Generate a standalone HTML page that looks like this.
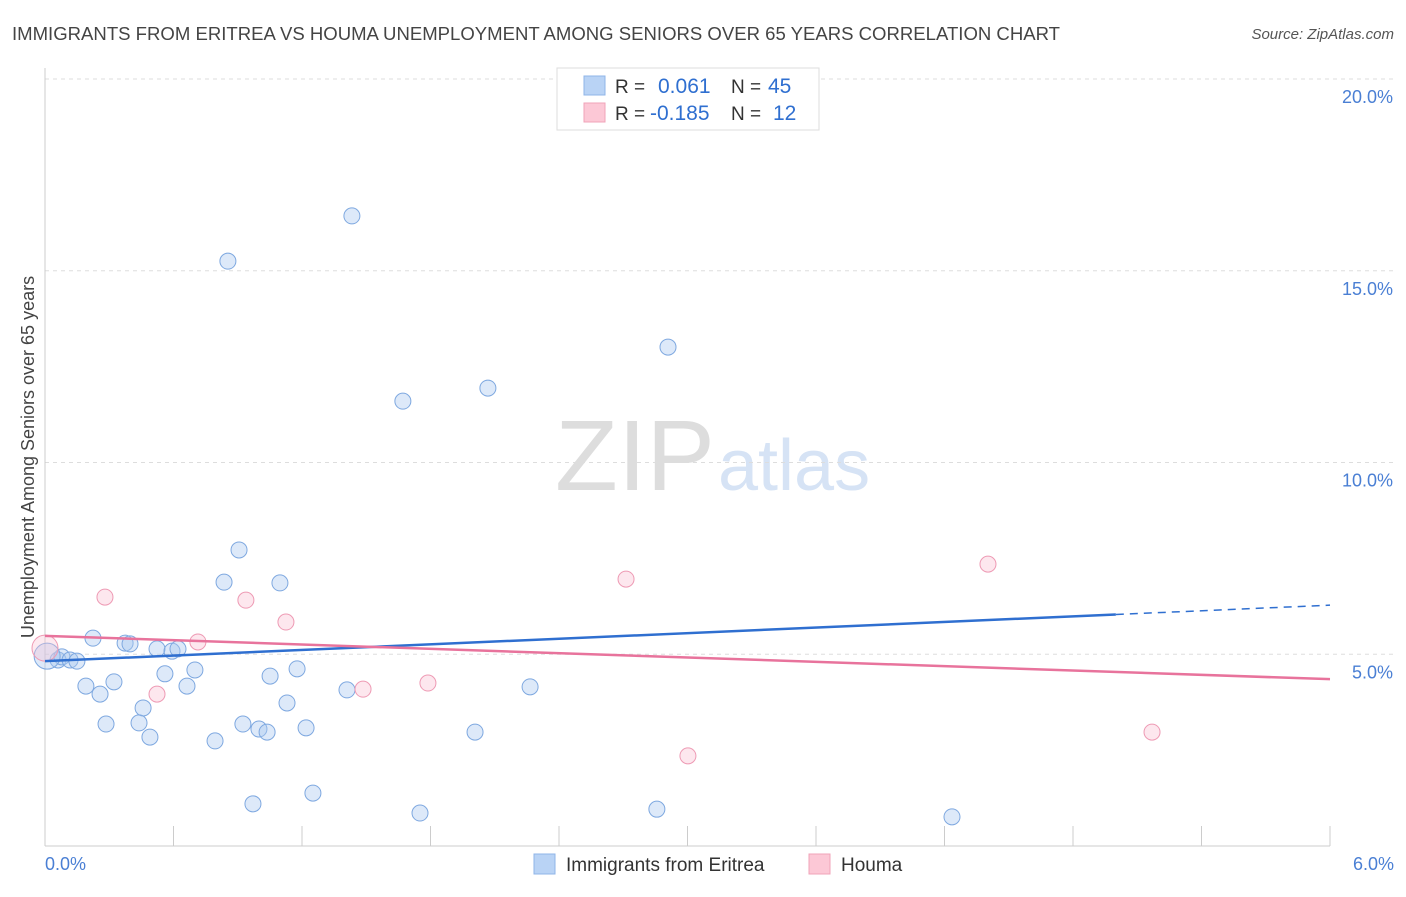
<!DOCTYPE html>
<html><head><meta charset="utf-8"><style>
body{margin:0;background:#fff;font-family:"Liberation Sans",sans-serif}
svg text{font-family:"Liberation Sans",sans-serif}
</style></head><body>
<svg id="c" width="1406" height="892">
<text x="12" y="40" font-size="18" fill="#444" textLength="1048" lengthAdjust="spacingAndGlyphs">IMMIGRANTS FROM ERITREA VS HOUMA UNEMPLOYMENT AMONG SENIORS OVER 65 YEARS CORRELATION CHART</text>
<text x="1394" y="39" font-size="15" fill="#555" text-anchor="end" font-style="italic">Source: ZipAtlas.com</text>
<text x="555" y="490" font-size="100" fill="#ddd" textLength="160" lengthAdjust="spacingAndGlyphs" font-family="Liberation Serif">ZIP</text>
<text x="718" y="490" font-size="72" fill="#d6e3f5">atlas</text>
<g id="grid"></g><g id="pts"></g><g id="lines"></g>
<text transform="translate(34,457) rotate(-90)" font-size="18" fill="#444" text-anchor="middle">Unemployment Among Seniors over 65 years</text>
<text x="45" y="870" font-size="18" fill="#4a7fd4">0.0%</text>
<text x="1394" y="870" font-size="18" fill="#4a7fd4" text-anchor="end">6.0%</text>
<g>
<rect x="557" y="68" width="262" height="62" fill="#fff" stroke="#ddd"/>
<rect x="584" y="76" width="21" height="19" fill="#b9d3f5" stroke="#8fb5e8"/>
<rect x="584" y="103" width="21" height="19" fill="#fcc8d6" stroke="#f0a3b8"/>
<text x="615" y="93" font-size="19" fill="#333">R =</text><text x="658" y="93" font-size="21" fill="#2f6fd0">0.061</text>
<text x="731" y="93" font-size="19" fill="#333">N =</text><text x="768" y="93" font-size="21" fill="#2f6fd0">45</text>
<text x="615" y="120" font-size="19" fill="#333">R =</text><text x="650" y="120" font-size="21" fill="#2f6fd0">-0.185</text>
<text x="731" y="120" font-size="19" fill="#333">N =</text><text x="773" y="120" font-size="21" fill="#2f6fd0">12</text>
</g>
<g>
<rect x="534" y="854" width="21" height="20" fill="#b9d3f5" stroke="#8fb5e8"/>
<text x="566" y="871" font-size="19" fill="#333">Immigrants from Eritrea</text>
<rect x="809" y="854" width="21" height="20" fill="#fcc8d6" stroke="#f0a3b8"/>
<text x="841" y="871" font-size="19" fill="#333">Houma</text>
</g>
</svg>
<script>
const blueX=[1.433,0.854,2.909,2.068,1.671,0.906,0.836,1.097,0.224,0.374,0.397,0.523,0.593,0.621,0.061,0.079,0.117,0.149,0.700,0.560,1.177,1.051,0.191,0.322,0.663,1.410,2.265,0.257,1.130,0.458,0.285,0.439,0.924,0.999,1.037,1.219,0.490,0.794,2.008,1.251,0.971,1.751,2.857,4.235];
const blueY=[16.43,15.25,13.01,11.94,11.60,7.72,6.88,6.86,5.42,5.29,5.27,5.14,5.08,5.14,4.85,4.93,4.85,4.82,4.59,4.49,4.62,4.43,4.17,4.28,4.17,4.07,4.15,3.96,3.73,3.60,3.18,3.21,3.18,3.05,2.97,3.08,2.84,2.74,2.97,1.38,1.10,0.86,0.96,0.76];
const pinkX=[0.280,0.938,2.713,4.403,1.125,0.714,0.523,1.485,1.788,3.002,5.169];
const pinkY=[6.49,6.41,6.96,7.35,5.84,5.32,3.96,4.09,4.25,2.35,2.97];
const yTicks=[5,10,15,20];
const blueTrend=[4.82,6.28], pinkTrend=[5.48,4.35];
const NS="http://www.w3.org/2000/svg";
const sx=v=>45+v/6*1285, sy=v=>846-v*38.35;
function mk(p,t,a){const e=document.createElementNS(NS,t);for(const k in a)e.setAttribute(k,a[k]);document.getElementById(p).appendChild(e);return e;}
yTicks.forEach(t=>{
 let l=mk('grid','line',{x1:45,x2:1395,y1:sy(t),y2:sy(t),stroke:'#ddd','stroke-dasharray':'4,4'});
 
 
 let tx=mk('grid','text',{x:1393,y:sy(t)+24,'font-size':18,fill:'#4a7fd4','text-anchor':'end'});
 tx.textContent=t.toFixed(1)+'%';
 
 
});
let ax=mk('grid','line',{x1:45,x2:1330,y1:846,y2:846,stroke:'#ccc'});


let ay=mk('grid','line',{x1:45,x2:45,y1:68,y2:846,stroke:'#ccc'});


for(let i=1;i<=10;i++){let t=mk('grid','line',{x1:sx(i*0.6),x2:sx(i*0.6),y1:826,y2:846,stroke:'#ccc'});
 
 }
blueX.forEach((x,i)=>{let c=mk('pts','circle',{cx:sx(x),cy:sy(blueY[i]),r:8,fill:'rgba(170,200,240,0.4)',stroke:'#7ea8e0'});
 
 });
pinkX.forEach((x,i)=>{let c=mk('pts','circle',{cx:sx(x),cy:sy(pinkY[i]),r:8,fill:'rgba(250,195,212,0.4)',stroke:'#ee9ab4'});
 
 });
let bb=mk('pts','circle',{cx:sx(0.01),cy:sy(4.95),r:13,fill:'rgba(170,200,240,0.4)',stroke:'#7ea8e0'});


let pb=mk('pts','circle',{cx:sx(0),cy:sy(5.16),r:13,fill:'rgba(250,195,212,0.35)',stroke:'#ee9ab4'});


const by=x=>blueTrend[0]+(blueTrend[1]-blueTrend[0])*x/6;
let l1=mk('lines','line',{x1:sx(0),y1:sy(by(0)),x2:sx(5),y2:sy(by(5)),stroke:'#2f6fd0','stroke-width':2.5});


let l2=mk('lines','line',{x1:sx(5),y1:sy(by(5)),x2:sx(6),y2:sy(by(6)),stroke:'#2f6fd0','stroke-width':1.5,'stroke-dasharray':'8,6'});


let l3=mk('lines','line',{x1:sx(0),y1:sy(pinkTrend[0]),x2:sx(6),y2:sy(pinkTrend[1]),stroke:'#e8739c','stroke-width':2.5});


</script>
</body></html>
